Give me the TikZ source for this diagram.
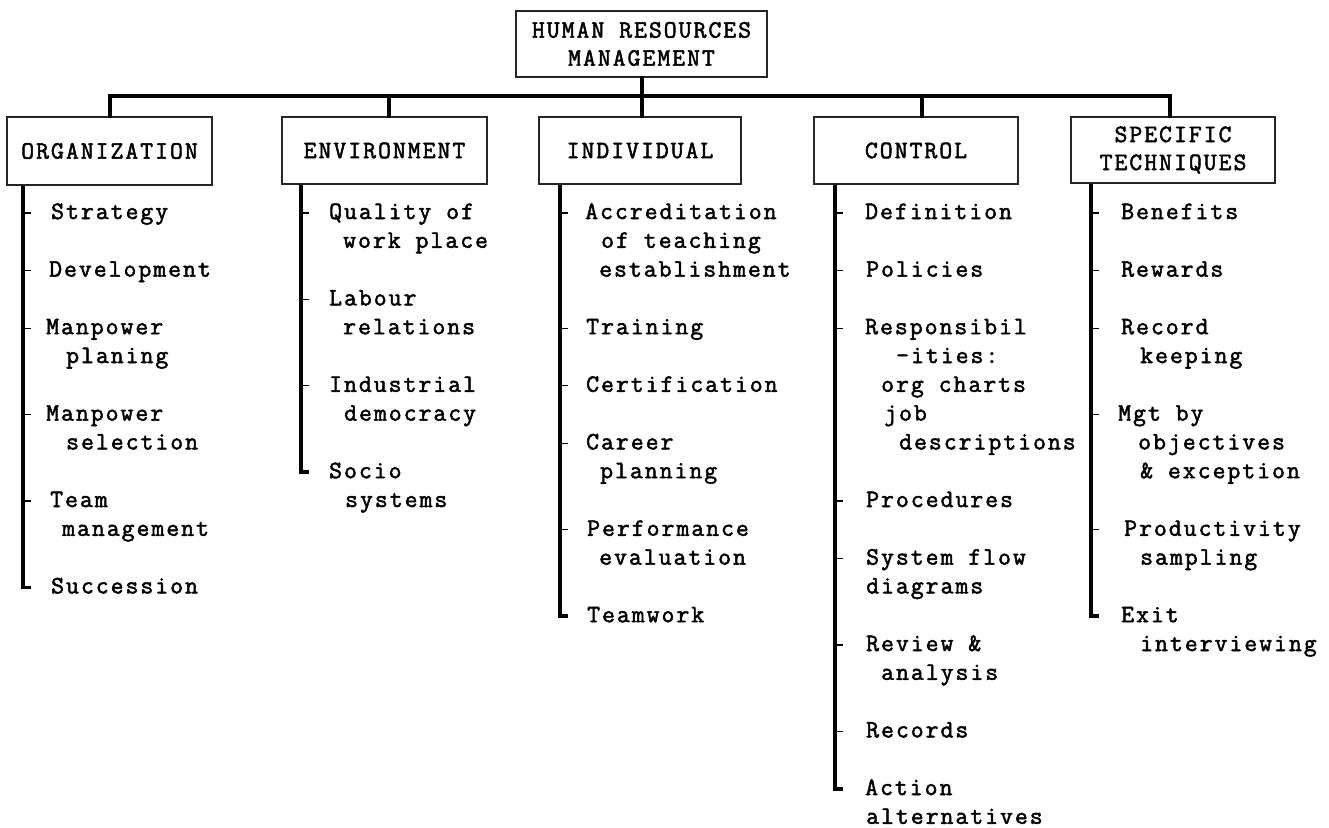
\documentclass[tikz,border=0pt]{standalone}
\usepackage{fontspec}
\setmonofont[LetterSpace=8, FakeBold=2]{Latin Modern Mono}
\begin{document}
\begin{tikzpicture}[x=1pt,y=-1pt,
  every node/.style={font=\ttfamily\fontsize{25}{28}\selectfont, inner sep=0pt},
  txt/.style={anchor=west, text height=17pt, text depth=5pt},
  head/.style={draw=black!85, line width=1.2pt, align=center, fill=white},
  bus/.style={line width=3.5pt, line cap=rect},
  spine/.style={line width=3.5pt, line join=miter},
  tick/.style={line width=1.2pt}]
\useasboundingbox (0,0) rectangle (1329,827);

% ---- header boxes ----
\node[head, minimum width=251pt, minimum height=66pt] (hrm) at (641.5,44) {HUMAN RESOURCES\\MANAGEMENT};
\node[head, minimum width=205pt, minimum height=68pt] (org) at (109.5,151) {ORGANIZATION};
\node[head, minimum width=205pt, minimum height=67pt] (env) at (384.5,150.5) {ENVIRONMENT};
\node[head, minimum width=202pt, minimum height=67pt] (ind) at (640,150.5) {INDIVIDUAL};
\node[head, minimum width=204pt, minimum height=67pt] (ctl) at (916,150.5) {CONTROL};
\node[head, minimum width=204pt, minimum height=66pt] (spec) at (1173,150) {SPECIFIC\\TECHNIQUES};

% ---- bus from the top box to the five branches ----
\coordinate (b-org) at (110,96);
\coordinate (b-env) at (389,96);
\coordinate (b-ind) at (642,96);
\coordinate (b-ctl) at (922,96);
\coordinate (b-spec) at (1170,96);
\draw[bus] (b-org) -- (b-spec);
\draw[bus] (b-ind |- hrm.south) -- (b-ind |- ind.north);
\draw[bus] (b-org) -- (b-org |- org.north);
\draw[bus] (b-env) -- (b-env |- env.north);
\draw[bus] (b-ctl) -- (b-ctl |- ctl.north);
\draw[bus] (b-spec) -- (b-spec |- spec.north);

% ---- ORGANIZATION ----
\node[txt] (o1)  at (51,213)    {Strategy};
\node[txt] (o2)  at (49,270.6)  {Development};
\node[txt] (o3)  at (46,328.2)  {Manpower};
\node[txt] (o3b) at (66,357)    {planing};
\node[txt] (o4)  at (46,414.6)  {Manpower};
\node[txt] (o4b) at (66,443.4)  {selection};
\node[txt] (o5)  at (50,501)    {Team};
\node[txt] (o5b) at (62,529.8)  {management};
\node[txt] (o6)  at (51,587.4)  {Succession};
\draw[spine] (23,0 |- org.south) -- (23,0 |- o6.west) -- ++(8,0);
\foreach \n in {o1,o2,o3,o4,o5} \draw[tick] (23,0 |- \n.west) -- ++(8,0);

% ---- ENVIRONMENT ----
\node[txt] (e1)  at (329,213)   {Quality of};
\node[txt] (e1b) at (343,241.8) {work place};
\node[txt] (e2)  at (329,299.4) {Labour};
\node[txt] (e2b) at (343,328.2) {relations};
\node[txt] (e3)  at (329,385.8) {Industrial};
\node[txt] (e3b) at (344,414.6) {democracy};
\node[txt] (e4)  at (329,472.2) {Socio};
\node[txt] (e4b) at (345,501)   {systems};
\draw[spine] (301,0 |- env.south) -- (301,0 |- e4.west) -- ++(8,0);
\foreach \n in {e1,e2,e3} \draw[tick] (301,0 |- \n.west) -- ++(8,0);

% ---- INDIVIDUAL ----
\node[txt] (i1)  at (585,213)   {Accreditation};
\node[txt] (i1b) at (601,241.8) {of teaching};
\node[txt] (i1c) at (599,270.6) {establishment};
\node[txt] (i2)  at (586,328.2) {Training};
\node[txt] (i3)  at (586,385.8) {Certification};
\node[txt] (i4)  at (586,443.4) {Career};
\node[txt] (i4b) at (600,472.2) {planning};
\node[txt] (i5)  at (587,529.8) {Performance};
\node[txt] (i5b) at (599,558.6) {evaluation};
\node[txt] (i6)  at (587,616.2) {Teamwork};
\draw[spine] (560,0 |- ind.south) -- (560,0 |- i6.west) -- ++(8,0);
\foreach \n in {i1,i2,i3,i4,i5} \draw[tick] (560,0 |- \n.west) -- ++(8,0);

% ---- CONTROL ----
\node[txt] (c1)  at (865,213)   {Definition};
\node[txt] (c2)  at (866,270.6) {Policies};
\node[txt] (c3)  at (865,328.2) {Responsibil};
\node[txt] (c3b) at (896,357)   {-ities:};
\node[txt] (c3c) at (881,385.8) {org charts};
\node[txt] (c3d) at (884,414.6) {job};
\node[txt] (c3e) at (899,443.4) {descriptions};
\node[txt] (c4)  at (866,501)   {Procedures};
\node[txt] (c5)  at (866,558.6) {System flow};
\node[txt] (c5b) at (866,587.4) {diagrams};
\node[txt] (c6)  at (866,645)   {Review \&};
\node[txt] (c6b) at (881,673.8) {analysis};
\node[txt] (c7)  at (866,731.4) {Records};
\node[txt] (c8)  at (865,789)   {Action};
\node[txt] (c8b) at (866,817.8) {alternatives};
\draw[spine] (835,0 |- ctl.south) -- (835,0 |- c8.west) -- ++(8,0);
\foreach \n in {c1,c2,c3,c4,c5,c6,c7} \draw[tick] (835,0 |- \n.west) -- ++(8,0);

% ---- SPECIFIC TECHNIQUES ----
\node[txt] (s1)  at (1121,213)   {Benefits};
\node[txt] (s2)  at (1121,270.6) {Rewards};
\node[txt] (s3)  at (1121,328.2) {Record};
\node[txt] (s3b) at (1140,357)   {keeping};
\node[txt] (s4)  at (1118,414.6) {Mgt by};
\node[txt] (s4b) at (1138,443.4) {objectives};
\node[txt] (s4c) at (1140,472.2) {\& exception};
\node[txt] (s5)  at (1124,529.8) {Productivity};
\node[txt] (s5b) at (1140,558.6) {sampling};
\node[txt] (s6)  at (1121,616.2) {Exit};
\node[txt] (s6b) at (1140,645)   {interviewing};
\draw[spine] (1091,0 |- spec.south) -- (1091,0 |- s6.west) -- ++(8,0);
\foreach \n in {s1,s2,s3,s4,s5} \draw[tick] (1091,0 |- \n.west) -- ++(8,0);
\end{tikzpicture}
\end{document}
